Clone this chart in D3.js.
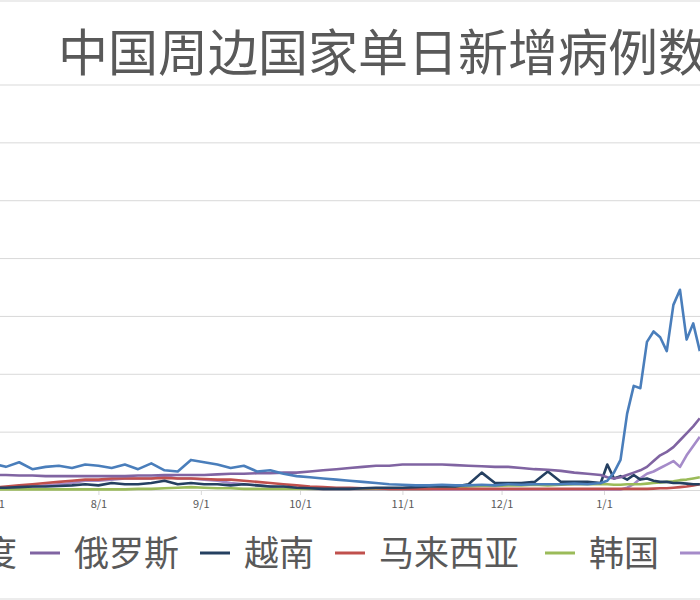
<!DOCTYPE html>
<html><head><meta charset="utf-8">
<script src="https://cdn.jsdelivr.net/npm/d3@7"></script>
<style>body{margin:0;background:#fff}svg{display:block}</style>
</head><body>
<svg id="c" width="700" height="600"></svg>
<script>
const seriesNames = ["印度","俄罗斯","越南","马来西亚","韩国","日本"];
const colors = ["#4a7ebb","#8064a2","#254061","#c0504d","#9bbb59","#a58bc9"];
const tickLabels = ["7/1","8/1","9/1","10/1","11/1","12/1","1/1"];
const tickDates = ["2020-07-01","2020-08-01","2020-09-01","2020-10-01","2020-11-01","2020-12-01","2021-01-01"];
// sample dates (categories): every 4 days to 12/31, then every 2 days
const dates = [];
for (let d = new Date(2020,5,30); d <= new Date(2020,11,31); d = d3.timeDay.offset(d,4)) dates.push(d);
for (let d = new Date(2021,0,2); d <= new Date(2021,0,30); d = d3.timeDay.offset(d,2)) dates.push(d);
// values in thousands
const india = [2.3,2.0,2.4,1.8,2.0,2.1,1.9,2.2,2.1,1.9,2.2,1.8,2.3,1.7,1.6,2.6,2.4,2.2,1.9,2.1,1.6,1.7,1.4,1.2,1.1,1.0,0.9,0.8,0.7,0.6,0.5,0.45,0.4,0.4,0.45,0.4,0.4,0.45,0.4,0.5,0.45,0.5,0.5,0.5,0.55,0.5,0.6,
  0.8,1.5,2.6,6.6,9.0,8.8,12.8,13.7,13.2,12.0,16.0,17.3,13.0,14.4,12.0];
const russia = [1.3,1.3,1.25,1.25,1.2,1.2,1.2,1.2,1.2,1.2,1.2,1.25,1.25,1.3,1.3,1.3,1.3,1.35,1.4,1.4,1.45,1.45,1.5,1.5,1.6,1.7,1.8,1.9,2.0,2.1,2.1,2.2,2.2,2.2,2.2,2.15,2.1,2.05,2.0,2.0,1.9,1.8,1.75,1.65,1.5,1.4,1.3,
  1.1,1.0,1.1,1.3,1.5,1.7,2.0,2.5,3.0,3.3,3.7,4.3,4.9,5.5,6.2];
const vietnam = [0.2,0.2,0.25,0.3,0.3,0.35,0.4,0.5,0.4,0.6,0.5,0.5,0.6,0.8,0.5,0.6,0.5,0.5,0.4,0.5,0.4,0.3,0.3,0.2,0.15,0.1,0.1,0.1,0.15,0.2,0.2,0.2,0.25,0.3,0.3,0.3,0.5,1.5,0.6,0.6,0.6,0.7,1.6,0.7,0.7,0.7,0.6,
  2.2,1.0,1.2,0.9,1.3,0.9,1.0,0.8,0.7,0.7,0.6,0.6,0.55,0.5,0.5];
const malaysia = [0.2,0.3,0.4,0.5,0.6,0.7,0.8,0.9,0.9,1.0,1.0,1.0,1.0,1.05,1.0,1.0,0.95,0.9,0.9,0.8,0.7,0.6,0.5,0.4,0.3,0.25,0.2,0.2,0.15,0.15,0.1,0.1,0.1,0.1,0.1,0.1,0.1,0.1,0.1,0.1,0.1,0.1,0.1,0.1,0.1,0.1,0.1,
  0.1,0.1,0.1,0.1,0.1,0.1,0.1,0.12,0.15,0.15,0.2,0.25,0.3,0.4,0.5];
const korea = [0.05,0.05,0.05,0.05,0.05,0.05,0.05,0.05,0.05,0.05,0.05,0.1,0.1,0.15,0.2,0.25,0.2,0.15,0.15,0.1,0.1,0.1,0.1,0.1,0.1,0.1,0.1,0.1,0.1,0.1,0.1,0.1,0.1,0.1,0.15,0.2,0.3,0.35,0.35,0.4,0.4,0.45,0.4,0.45,0.5,0.5,0.5,
  0.5,0.45,0.45,0.5,0.5,0.5,0.55,0.6,0.65,0.7,0.75,0.85,0.9,1.0,1.1];
const japan = [0.2,0.2,0.2,0.3,0.4,0.5,0.6,0.8,0.8,0.9,1.0,1.0,1.0,1.2,1.0,1.0,0.9,0.8,0.6,0.5,0.4,0.3,0.2,0.15,0.1,0.05,0.05,0.05,0.05,0.05,0.05,0.05,0.05,0.05,0.05,0.05,0.05,0.05,0.05,0.05,0.05,0.05,0.05,0.05,0.05,0.05,0.05,
  0.05,0.05,0.05,0.2,0.5,1.0,1.4,1.6,1.9,2.2,2.5,2.0,3.0,3.8,4.6];
const allSeries = [india,russia,vietnam,malaysia,korea,japan];

const svg = d3.select("#c");
const font = "'Noto Sans CJK SC', sans-serif";
const x = d3.scaleTime().domain([new Date(2020,6,1), new Date(2021,0,1)]).range([-4, 604]);
const y = d3.scaleLinear().domain([0,35]).range([490,85]);

svg.append("line").attr("x1",0).attr("x2",700).attr("y1",1).attr("y2",1).attr("stroke","#d9d9d9");
svg.append("line").attr("x1",0).attr("x2",700).attr("y1",599).attr("y2",599).attr("stroke","#d9d9d9");

const g = svg.append("g");
g.selectAll(".grid").data(d3.range(5,36,5)).join("line")
  .attr("x1",0).attr("x2",700).attr("y1",d=>y(d)).attr("y2",d=>y(d))
  .attr("stroke","#d9d9d9").attr("stroke-width",1);

const xa = svg.append("g").attr("transform","translate(0,490)")
  .call(d3.axisBottom(x).tickValues(tickDates.map(d=>d3.isoParse(d+"T00:00:00"))).tickFormat((d,i)=>tickLabels[i]).tickSize(5).tickSizeOuter(0));
xa.select(".domain").attr("stroke","#d9d9d9").attr("d","M0,0.5H700");
xa.selectAll(".tick line").attr("stroke","#d9d9d9");
xa.selectAll("text").attr("fill","#595959").style("font-family",font).style("font-size","11px").attr("dy","0.9em");

const line = d3.line().x((d,i)=>x(dates[i])).y(d=>y(d));
[5,4,3,2,1,0].forEach(k=>{
  svg.append("path").datum(allSeries[k]).attr("d",line).attr("fill","none")
    .attr("stroke",colors[k]).attr("stroke-width",2.6).attr("stroke-linejoin","round");
});

svg.append("text").attr("x",58).attr("y",71).text("中国周边国家单日新增病例数")
  .attr("fill","#595959").style("font-family",font).style("font-size","50px");

const legX = [-50,30,200,335,545,680];
const lg = svg.append("g");
seriesNames.forEach((n,i)=>{
  lg.append("line").attr("x1",legX[i]).attr("x2",legX[i]+30).attr("y1",553).attr("y2",553)
    .attr("stroke",colors[i]).attr("stroke-width",3);
  lg.append("text").attr("x",legX[i]+44).attr("y",566).text(n)
    .attr("fill","#595959").style("font-family",font).style("font-size","35px");
});
lg.select("text").attr("x",-53);
</script>
</body></html>
